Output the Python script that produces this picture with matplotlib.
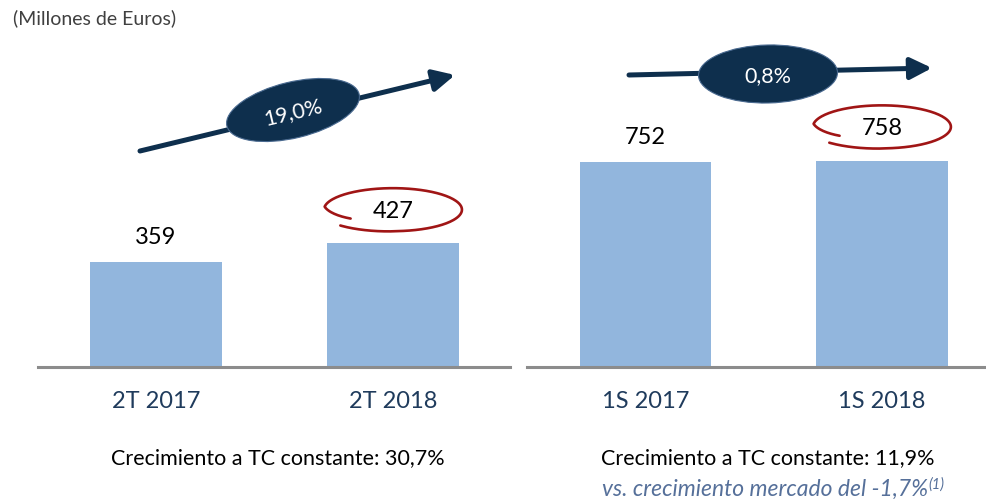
import numpy as np
import matplotlib
matplotlib.use("Agg")
import matplotlib.pyplot as plt
from matplotlib.patches import Ellipse

plt.rcParams['font.family'] = ['Lato', 'DejaVu Sans']

# data
left_cats = ['2T 2017', '2T 2018']
left_vals = [359, 427]
right_cats = ['1S 2017', '1S 2018']
right_vals = [752, 758]
left_growth = '19,0%'
right_growth = '0,8%'
left_note = 'Crecimiento a TC constante: 30,7%'
right_note = 'Crecimiento a TC constante: 11,9%'
right_sub = 'vs. crecimiento mercado del -1,7%'

BAR = '#92B6DD'
NAVY = '#0E2F4D'
RED = '#A01515'
TICK = '#1F3B5C'

W, H = 987, 499
fig = plt.figure(figsize=(W / 100, H / 100), dpi=100)


def px_rect(x0, x1, ytop, ybot):
    return [x0 / W, (H - ybot) / H, (x1 - x0) / W, (ybot - ytop) / H]


def panel(rect, cats, vals, ytop):
    ax = fig.add_axes(rect)
    ax.bar(range(len(vals)), vals, width=0.557, color=BAR, zorder=2)
    ax.set_ylim(0, ytop)
    for s in ['top', 'left', 'right']:
        ax.spines[s].set_visible(False)
    ax.spines['bottom'].set_color('#8C8C8C')
    ax.spines['bottom'].set_linewidth(2.2)
    ax.set_yticks([])
    ax.set_xticks(range(len(cats)), cats)
    ax.tick_params(axis='x', length=0, pad=17.5, labelsize=17, labelcolor=TICK)
    ax.patch.set_alpha(0)
    return ax


ax1 = panel(px_rect(38, 510, 20, 366.5), left_cats, left_vals, 346.5 / 0.290)
ax1.set_xlim(-0.498, 1.494)
ax2 = panel(px_rect(527, 985, 20, 366.5), right_cats, right_vals, 346.5 / 0.2713)
ax2.set_xlim(-0.501, 1.436)

# overlay in pixel coordinates for annotations
ov = fig.add_axes([0, 0, 1, 1], zorder=5)
ov.set_xlim(0, W)
ov.set_ylim(H, 0)
ov.axis('off')
ov.patch.set_alpha(0)


def to_ov(ax, x, y):
    return ov.transData.inverted().transform(ax.transData.transform((x, y)))


def red_loop(cx, cy, rx, ry):
    th = np.linspace(np.radians(214), np.radians(214 - 350), 200)
    t = np.linspace(0, 1, 200)
    sc = 0.74 + 0.26 * np.clip(t / 0.12, 0, 1) + 0.06 * np.clip((t - 0.85) / 0.15, 0, 1)
    xs = cx + rx * sc * np.cos(th)
    ys = cy - ry * sc * np.sin(th)
    ov.plot(xs, ys, color=RED, lw=1.9, solid_capstyle='round')


for ax, vals, offs in [(ax1, left_vals, [25, 31]), (ax2, right_vals, [25, 32])]:
    for i, v in enumerate(vals):
        x, y = to_ov(ax, i, v)
        ov.text(x, y - offs[i], str(v), ha='center', va='center', fontsize=17, color='black')
        if i == 1:
            red_loop(x, y - offs[i] - 2, 69, 21.5)


def growth_arrow(p0, p1, c, w, h, label, rot_text=True):
    ov.annotate('', xy=p1, xytext=p0,
                arrowprops=dict(arrowstyle='-|>,head_length=1.0,head_width=0.5',
                                mutation_scale=13, lw=3.6, color=NAVY,
                                shrinkA=0, shrinkB=0), zorder=3)
    ang = np.degrees(np.arctan2(p1[1] - p0[1], p1[0] - p0[0]))
    ov.add_patch(Ellipse(c, w, h, angle=ang, facecolor=NAVY, edgecolor='#4A6A90',
                         lw=0.8, zorder=4))
    ov.text(c[0], c[1] + 2, label, color='white', fontsize=15.5, ha='center', va='center',
            rotation=-ang if rot_text else 0, rotation_mode='anchor', zorder=5)


growth_arrow((140, 151), (455, 75), (293, 110), 136, 56, left_growth)
growth_arrow((629, 75), (932, 68), (768, 74), 139, 58, right_growth, rot_text=False)

ov.text(13, 18, '(Millones de Euros)', fontsize=14, color='#404040', ha='left',
        va='center')

ov.text(278, 458, left_note, fontsize=15.5, color='black', ha='center', va='center')
ov.text(768, 458, right_note, fontsize=15.5, color='black', ha='center', va='center')
sub = ov.text(602, 489, right_sub, fontsize=16.5, color='#56709A', ha='left', va='center',
              style='italic')
ov.annotate('(1)', xy=(1, 1), xycoords=sub, xytext=(0.5, 1), textcoords='offset points',
            ha='left', va='top', fontsize=10.5, color='#56709A', style='italic')

fig.savefig('out.png', dpi=100)
